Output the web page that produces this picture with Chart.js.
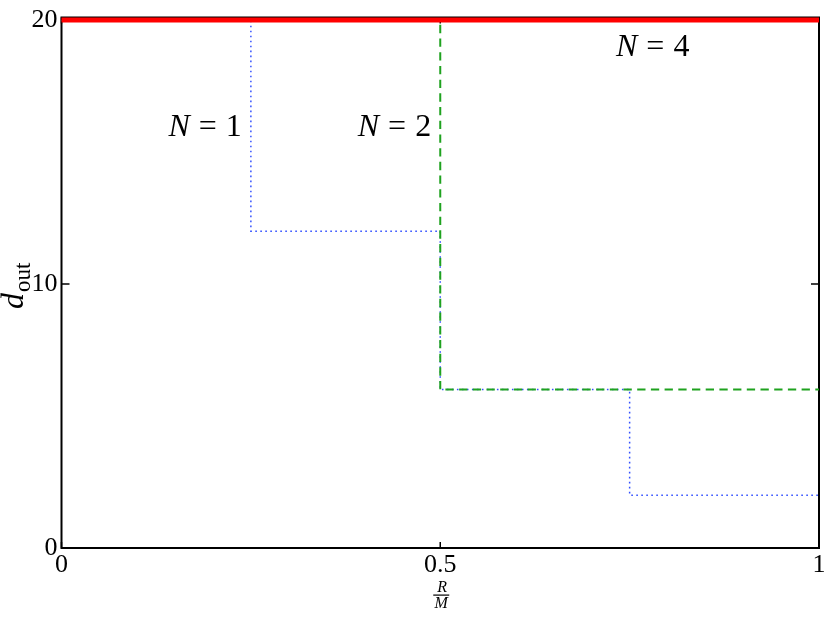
<!DOCTYPE html>
<html>
<head>
<meta charset="utf-8">
<script src="https://cdn.jsdelivr.net/npm/chart.js@4"></script>
<style>
html,body{margin:0;padding:0;background:#fff;}
#wrap{width:830px;height:618px;position:relative;}
</style>
</head>
<body>
<div id="wrap"><canvas id="c" width="830" height="618"></canvas></div>
<script>
// ---- data (step breakpoints) ----
const n1X = [0, 0.25, 0.5, 0.75, 1];
const n1Y = [20, 12, 6, 2, 2];
const n2X = [0, 0.5, 1];
const n2Y = [20, 6, 6];
const n4X = [0, 1];
const n4Y = [20, 20];
const xTickValues = [0, 0.5, 1];
const xTickLabels = ['0', '0.5', '1'];
const yTickValues = [0, 10, 20];
const yTickLabels = ['0', '10', '20'];
const noteLabels = ['N = 1', 'N = 2', 'N = 4'];
// annotation anchors (data coordinates)
const noteX = [0.238, 0.488, 0.732];
const noteY = [15.61, 15.61, 18.62];
const noteAlign = ['right', 'right', 'left'];

function pts(xs, ys) { return xs.map((x, i) => ({x: x, y: ys[i]})); }

const SERIF = "'Liberation Serif', 'Times New Roman', Tinos, Times, serif";

const decor = {
  id: 'decor',
  beforeDatasetsDraw(chart) {
    const ctx = chart.ctx, a = chart.chartArea;
    const xs = chart.scales.x, ys = chart.scales.y;
    ctx.save();
    ctx.strokeStyle = '#000';
    ctx.lineWidth = 2;
    ctx.beginPath();
    ctx.rect(a.left, a.top - 2.5, a.right - a.left, a.bottom - a.top + 2.5);
    ctx.stroke();
    ctx.lineWidth = 1.5;
    ctx.beginPath();
    xTickValues.forEach(v => {
      const px = xs.getPixelForValue(v);
      ctx.moveTo(px, a.bottom); ctx.lineTo(px, a.bottom - 6);
      ctx.moveTo(px, a.top - 2.5); ctx.lineTo(px, a.top + 3.5);
    });
    yTickValues.forEach(v => {
      const py = ys.getPixelForValue(v);
      ctx.moveTo(a.left, py); ctx.lineTo(a.left + 8, py);
      ctx.moveTo(a.right, py); ctx.lineTo(a.right - 8, py);
    });
    ctx.stroke();
    ctx.restore();
  },
  afterDraw(chart) {
    const ctx = chart.ctx;
    const xs = chart.scales.x, ys = chart.scales.y;
    ctx.save();
    ctx.fillStyle = '#000';
    ctx.textBaseline = 'alphabetic';
    // N = k labels (TeX-like spacing around '=')
    noteLabels.forEach((t, i) => {
      const px = xs.getPixelForValue(noteX[i]);
      const py = ys.getPixelForValue(noteY[i]);
      const parts = t.split(' '); // ['N','=','k']
      ctx.font = 'italic 32px ' + SERIF;
      const w0 = ctx.measureText(parts[0]).width;
      ctx.font = '32px ' + SERIF;
      const w1 = ctx.measureText(parts[1]).width;
      const w2 = ctx.measureText(parts[2]).width;
      const gap = 9;
      const total = w0 + gap + w1 + gap + w2;
      const x0 = noteAlign[i] === 'right' ? px - total : px;
      ctx.textAlign = 'left';
      ctx.font = 'italic 32px ' + SERIF;
      ctx.fillText(parts[0], x0, py);
      ctx.font = '32px ' + SERIF;
      ctx.fillText(parts[1], x0 + w0 + gap, py);
      ctx.fillText(parts[2], x0 + w0 + gap + w1 + gap, py);
    });
    // y axis title d_out
    ctx.save();
    ctx.translate(23, 309);
    ctx.rotate(-Math.PI / 2);
    ctx.textAlign = 'left';
    ctx.font = 'italic 32px ' + SERIF;
    ctx.fillText('d', 0, 0);
    const wd = ctx.measureText('d').width;
    ctx.font = '23px ' + SERIF;
    ctx.fillText('out', wd + 1, 7);
    ctx.restore();
    // x axis title R/M fraction
    const cx = xs.getPixelForValue(0.5) + 1;
    ctx.textAlign = 'center';
    ctx.font = 'italic 16px ' + SERIF;
    ctx.fillText('R', cx + 1, 592);
    ctx.fillText('M', cx, 607.5);
    ctx.fillRect(cx - 8, 594.5, 16, 1.2);
    ctx.restore();
  }
};

function build() {
  new Chart(document.getElementById('c'), {
    type: 'scatter',
    data: {
      datasets: [
        { label: 'N = 4', data: pts(n4X, n4Y), showLine: true, borderColor: '#ff0000', borderWidth: 5, pointRadius: 0, order: 0, clip: 6 },
        { label: 'N = 2', data: pts(n2X, n2Y), showLine: true, stepped: 'before', borderColor: '#1fa21f', borderWidth: 2, borderDash: [8.3, 5.4], pointRadius: 0, order: 1 },
        { label: 'N = 1', data: pts(n1X, n1Y), showLine: true, stepped: 'before', borderColor: 'rgb(50,80,255)', borderWidth: 1.5, borderDash: [1.6, 3.4], pointRadius: 0, order: 2 }
      ]
    },
    options: {
      responsive: false,
      animation: false,
      devicePixelRatio: 1,
      layout: { padding: { top: 20, right: 11, left: 0, bottom: 0 } },
      plugins: { legend: { display: false }, tooltip: { enabled: false } },
      scales: {
        x: {
          type: 'linear', min: 0, max: 1,
          grid: { display: false, drawTicks: false },
          border: { display: false },
          afterBuildTicks: s => { s.ticks = xTickValues.map(v => ({value: v})); },
          ticks: {
            color: '#000', padding: 2, maxRotation: 0,
            font: { family: SERIF, size: 26 },
            callback: v => xTickLabels[xTickValues.indexOf(v)]
          },
          afterFit: s => { s.height = 70; }
        },
        y: {
          type: 'linear', min: 0, max: 20,
          grid: { display: false, drawTicks: false },
          border: { display: false },
          afterBuildTicks: s => { s.ticks = yTickValues.map(v => ({value: v})); },
          ticks: {
            color: '#000', padding: 4,
            font: { family: SERIF, size: 26 },
            callback: v => yTickLabels[yTickValues.indexOf(v)]
          },
          afterFit: s => { s.width = 61.5; }
        }
      }
    },
    plugins: [decor]
  });
}

Promise.all([
  document.fonts.load("26px 'Liberation Serif'"),
  document.fonts.load("italic 26px 'Liberation Serif'")
]).then(build, build);
</script>
</body>
</html>
